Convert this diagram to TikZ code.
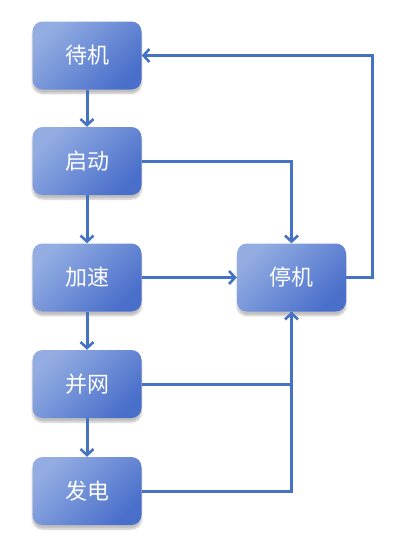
\documentclass[tikz,border=0pt]{standalone}
\usepackage{fontspec}
\newfontfamily\cjk{Noto Sans CJK SC}
\usetikzlibrary{arrows.meta}
\usetikzlibrary{shadows.blur}
\definecolor{boxlight}{HTML}{93ADE2}
\definecolor{boxdark}{HTML}{4A6FCB}
\definecolor{linkblue}{HTML}{4472C4}

\begin{document}
\begin{tikzpicture}[x=1pt, y=-1pt,
	state/.style = {rectangle, rounded corners=10pt,
		minimum width=109pt, minimum height=68pt,
		left color=boxlight, right color=boxdark, shading angle=45,
		blur shadow={shadow xshift=0pt, shadow yshift=-4pt, shadow blur steps=6, shadow opacity=25},
		text=white, font=\cjk\fontsize{22}{26}\selectfont},
	link/.style = {draw=linkblue, line width=3pt,
		-{Straight Barb[length=6pt,width=13pt,line width=2.6pt]}},
	wire/.style = {draw=linkblue, line width=3pt}]
	
	\useasboundingbox (0,0) rectangle (408,546);
	
	% Left column
	\node[state] (dj) at (87,55.5) {待机};
	\node[state] (qd) at (87,161) {启动};
	\node[state] (js) at (87,277.5) {加速};
	\node[state] (bw) at (87,384) {并网};
	\node[state] (fd) at (87,491) {发电};
	
	% Stop
	\node[state] (tj) at (291.5,277.5) {停机};
	
	% Main sequence
	\draw[link] (dj) -- (qd);
	\draw[link] (qd) -- (js);
	\draw[link] (js) -- (bw);
	\draw[link] (bw) -- (fd);
	
	% To stop
	\draw[link] (qd.east) -| (tj.north);
	\draw[link] (js) -- (tj);
	\draw[wire] (bw.east) -| (tj.south);
	\draw[link] (fd.east) -| (tj.south);
	
	% Back to standby
	\draw[link] (tj.east) -- ++(26,0) |- (dj.east);
	
\end{tikzpicture}
\end{document}
